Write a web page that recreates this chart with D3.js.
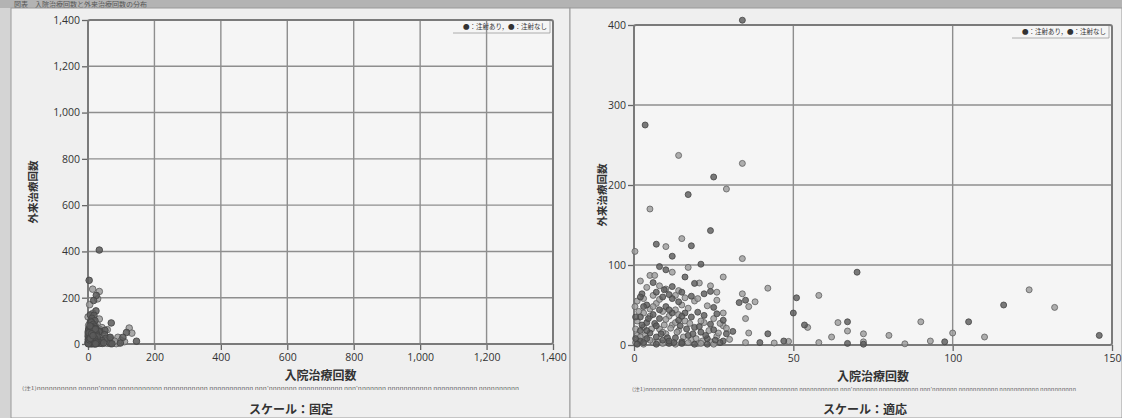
<!DOCTYPE html>
<html>
<head>
<meta charset="utf-8">
<script src="https://cdn.jsdelivr.net/npm/d3@7"></script>
<style>
  html, body { margin: 0; padding: 0; background: #d6d6d6; }
  svg { display: block; }
  text { font-family: "Noto Sans CJK JP", "Noto Sans", sans-serif; }
  .tick text { font-family: "Open Sans", "Noto Sans", sans-serif; }
</style>
</head>
<body>
<svg id="chart" width="1122" height="418"></svg>
<script>
// 入院治療回数 (x) と 外来治療回数 (y) — 注射あり
const injectedPoints = [
  [34,406],[3.5,275],[25,210],[17,188],[24,143],[7,126],[18,124],[12,111],[21,101],[8,98],
  [10,94],[16,85],[19,77],[12,73],[9.5,69],[24,67],[2.5,64],[51,59],[35,56],[33,53],
  [25,47],[14,54],[50,40],[53.5,25],[67,29],[31,17],[42,14],[28,5],[39.5,3],[47,5],
  [67,2],[70,91],[116,50],[105,29],[146,12],[97.5,4],[72,1],
  [2,5],[4,8],[2,18],[5,15],[7,10],[9,6],[11,2],[13,9],[15,4],[17,12],[19,22],[21,16],
  [23,8],[25,19],[27,3],[29,14],[2,35],[4,28],[6,38],[8,33],[10,48],[12,58],[14,31],
  [16,40],[18,35],[20,41],[22,37],[24,26],[26,39],[28,31],[2,60],[4,50],[7,66],[9,60],
  [11,63],[15,66],[18,61],[22,64],[6,78],[0.5,8],[0.5,35],[2.5,25],[4.5,33],[6.5,27],
  [8.5,14],[10.5,9],[12.5,3],[14.5,24],[16.5,20],[18.5,14],[20.5,23],[22.5,12],[25.5,6],
  [3,3],[7,1],[11,5],[15,2],[19,1],[23,1],[1,1],[4,18],[8,44],[12,40],[3,48],[7,24],
  [11,44],[15,36]
];

// 入院治療回数 (x) と 外来治療回数 (y) — 注射なし
const nonInjectedPoints = [
  [14,237],[34,227],[29,195],[5,170],[15,133],[10,123],[0.3,117],[34,108],[17,97],[5,87],
  [6.5,87],[12,91],[28,85],[20.5,77.5],[24,74],[42,71],[14,68],[26,66],[34,64],[58,62],
  [26,56],[38,54],[36,48],[0.3,48],[28,40],[35,33],[54.5,22],[64,28],[67,17.5],[36,15],
  [72,14],[35,3],[44,2.5],[48.5,4.5],[58,3],[72,4],[124,69],[132,47],[90,29],[93,5],
  [85,1.5],[100,15],[110,10],[62,10],[80,12],
  [1,2],[3,1],[1,12],[3,22],[6,3],[8,20],[10,14],[12,25],[14,18],[16,30],[18,6],[20,2],
  [22,28],[24,4],[26,11],[28,24],[30,7],[1,30],[3,40],[5,45],[7,52],[9,42],[11,36],
  [13,44],[15,50],[17,46],[19,55],[21,30],[23,49],[25,33],[27,27],[29,21],[1,55],
  [3,58],[6,62],[8,57],[10,70],[13,62],[16,59],[20,58],[4,72],[8,74],[2,80],[0.5,3],
  [0.5,20],[1.5,42],[3.5,12],[5.5,20],[7.5,4],[9.5,25],[11.5,21],[13.5,16],[15.5,10],
  [17.5,27],[19.5,8],[21.5,5],[23.5,18],[26.5,15],[5,6],[9,2],[13,1],[17,3],[21,2],
  [25,1],[2,10],[6,48],[10,32],[14,38],[5,36],[9,16],[13,28]
];

// 軸の目盛り
const fixedTicks = [0, 200, 400, 600, 800, 1000, 1200, 1400];
const adaptiveXTicks = [0, 50, 100, 150];
const adaptiveYTicks = [0, 100, 200, 300, 400];

const legendText = "●：注射あり，●：注射なし";
const xTitle = "入院治療回数";
const yTitle = "外来治療回数";
const captionFixed = "スケール：固定";
const captionAdaptive = "スケール：適応";
const footnoteText = "(注1)nnnnnnnnnn nnnnn'nnnn nnnnnnnnnnn nnnnnnnnnnn nnnnnnnnnnn nnn'nnnnnnn nnnnnnnnnnn nnn'nnnnnnn nnnnnnnnnnn nnnnnnnnnnn nnnnnnnnnn";
const headerText = "図表　入院治療回数と外来治療回数の分布";

const svg = d3.select("#chart");
const fmt = d3.format(",");

// 紙面の背景
svg.append("rect").attr("width", 1122).attr("height", 418).attr("fill", "#d4d4d4");
svg.append("rect").attr("x", 0).attr("y", 0).attr("width", 1122).attr("height", 8).attr("fill", "#b3b3b3");
svg.append("text").attr("x", 14).attr("y", 7).attr("font-size", 7).attr("fill", "#555").text(headerText);

// パネル
svg.append("rect").attr("x", 11).attr("y", 8).attr("width", 559).attr("height", 410)
  .attr("fill", "#efefef").attr("stroke", "#9a9a9a").attr("stroke-width", 1);
svg.append("rect").attr("x", 570).attr("y", 8).attr("width", 552).attr("height", 410)
  .attr("fill", "#efefef").attr("stroke", "#9a9a9a").attr("stroke-width", 1);

function drawPanel(cfg) {
  const x = d3.scaleLinear().domain(cfg.xDomain).range([cfg.left, cfg.right]);
  const y = d3.scaleLinear().domain(cfg.yDomain).range([cfg.bottom, cfg.top]);
  const g = svg.append("g");

  // プロット領域
  g.append("rect")
    .attr("x", cfg.left).attr("y", cfg.top)
    .attr("width", cfg.right - cfg.left).attr("height", cfg.bottom - cfg.top)
    .attr("fill", "#f5f5f5");

  // グリッド線
  g.append("g").selectAll("line").data(cfg.xTicks.slice(1, -1)).join("line")
    .attr("x1", d => x(d)).attr("x2", d => x(d))
    .attr("y1", cfg.top).attr("y2", cfg.bottom)
    .attr("stroke", "#8e8e8e").attr("stroke-width", 1.4);
  g.append("g").selectAll("line").data(cfg.yTicks.slice(1, -1)).join("line")
    .attr("y1", d => y(d)).attr("y2", d => y(d))
    .attr("x1", cfg.left).attr("x2", cfg.right)
    .attr("stroke", "#8e8e8e").attr("stroke-width", 1.4);

  // 軸
  const xAxis = d3.axisBottom(x).tickValues(cfg.xTicks).tickFormat(fmt).tickSize(6).tickPadding(4);
  const yAxis = d3.axisLeft(y).tickValues(cfg.yTicks).tickFormat(fmt).tickSize(6).tickPadding(2);
  const gx = g.append("g").attr("transform", `translate(0,${cfg.bottom})`).call(xAxis);
  const gy = g.append("g").attr("transform", `translate(${cfg.left},0)`).call(yAxis);
  [gx, gy].forEach(a => {
    a.select(".domain").remove();
    a.selectAll(".tick line").attr("stroke", "#666").attr("stroke-width", 1.3);
    a.selectAll(".tick text").attr("font-size", 10.5).attr("fill", "#333");
  });

  // 外枠
  g.append("rect")
    .attr("x", cfg.left).attr("y", cfg.top)
    .attr("width", cfg.right - cfg.left).attr("height", cfg.bottom - cfg.top)
    .attr("rx", 2).attr("fill", "none").attr("stroke", "#7a7a7a").attr("stroke-width", 2);

  // 散布点
  const drawPts = (pts, fill, stroke) => {
    g.append("g").selectAll("circle").data(pts).join("circle")
      .attr("cx", d => x(d[0])).attr("cy", d => y(d[1]))
      .attr("r", cfg.r)
      .attr("fill", fill).attr("fill-opacity", cfg.opacity)
      .attr("stroke", stroke).attr("stroke-opacity", cfg.opacity).attr("stroke-width", 1);
  };
  drawPts(nonInjectedPoints, "#9b9b9b", "#5f5f5f");
  drawPts(injectedPoints, "#5a5a5a", "#454545");

  // 凡例
  g.append("text")
    .attr("x", cfg.right - 6).attr("y", cfg.top + 9)
    .attr("text-anchor", "end").attr("font-size", 6.5).attr("fill", "#333")
    .text(legendText);
  g.append("path")
    .attr("d", `M${cfg.right - 100},${cfg.top + 13} H${cfg.right - 3} V${cfg.top + 1}`)
    .attr("fill", "none").attr("stroke", "#999").attr("stroke-width", 0.8);

  // 軸タイトル
  g.append("text")
    .attr("x", (cfg.left + cfg.right) / 2).attr("y", cfg.bottom + 36)
    .attr("text-anchor", "middle").attr("font-size", 12).attr("font-weight", "bold").attr("fill", "#333")
    .text(xTitle);
  g.append("text")
    .attr("transform", `translate(${cfg.yTitleX},${(cfg.top + cfg.bottom) / 2 + 10}) rotate(-90)`)
    .attr("text-anchor", "middle").attr("font-size", 10.5).attr("font-weight", "bold").attr("fill", "#333")
    .text(yTitle);

  // 注記
  g.append("text")
    .attr("x", cfg.noteX).attr("y", cfg.bottom + 46)
    .attr("font-size", 5).attr("fill", "#666").attr("textLength", cfg.noteW).attr("lengthAdjust", "spacingAndGlyphs")
    .text(footnoteText);

  // スケール表示
  g.append("text")
    .attr("x", cfg.captionX).attr("y", 414)
    .attr("text-anchor", "middle").attr("font-size", 12).attr("font-weight", "bold").attr("fill", "#333")
    .text(cfg.caption);
}

drawPanel({
  xDomain: [0, 1400], yDomain: [0, 1400],
  xTicks: fixedTicks, yTicks: fixedTicks,
  left: 88, right: 553, top: 20, bottom: 344,
  r: 3.3, opacity: 0.85,
  yTitleX: 37, noteX: 22, noteW: 497,
  caption: captionFixed, captionX: 291
});

drawPanel({
  xDomain: [0, 150], yDomain: [0, 400],
  xTicks: adaptiveXTicks, yTicks: adaptiveYTicks,
  left: 634, right: 1112, top: 25, bottom: 345,
  r: 3, opacity: 0.8,
  yTitleX: 606, noteX: 632, noteW: 444,
  caption: captionAdaptive, captionX: 865
});
</script>
</body>
</html>
